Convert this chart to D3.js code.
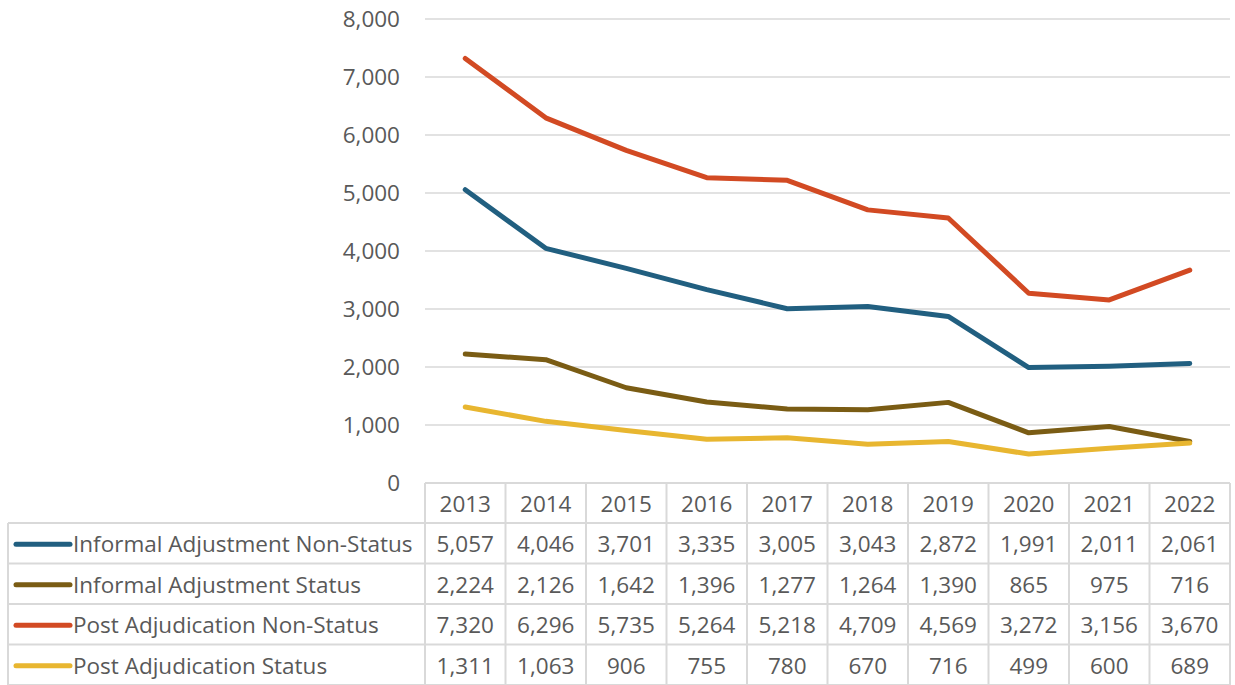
<!DOCTYPE html>
<html>
<head>
<meta charset="utf-8">
<script src="https://cdn.jsdelivr.net/npm/d3@7"></script>
<style>
  body { margin: 0; background: #fff; }
  svg text { font-family: "Open Sans", "Noto Sans", sans-serif; fill: #595959; }
</style>
</head>
<body>
<div id="chart"></div>
<script>
// Data
const years = ["2013", "2014", "2015", "2016", "2017", "2018", "2019", "2020", "2021", "2022"];
const seriesNames = [
  "Informal Adjustment Non-Status",
  "Informal Adjustment Status",
  "Post Adjudication Non-Status",
  "Post Adjudication Status"
];
const informalNonStatus = [5057, 4046, 3701, 3335, 3005, 3043, 2872, 1991, 2011, 2061];
const informalStatus = [2224, 2126, 1642, 1396, 1277, 1264, 1390, 865, 975, 716];
const postNonStatus = [7320, 6296, 5735, 5264, 5218, 4709, 4569, 3272, 3156, 3670];
const postStatus = [1311, 1063, 906, 755, 780, 670, 716, 499, 600, 689];
const yTicks = [0, 1000, 2000, 3000, 4000, 5000, 6000, 7000, 8000];

const seriesColors = ["#215F80", "#7A5C14", "#D24A23", "#E8B630"];
const seriesValues = [informalNonStatus, informalStatus, postNonStatus, postStatus];

const W = 1235, H = 685;
const plot = { left: 425, right: 1230, top: 19, bottom: 483 };
const tableLeft = 8;
const headerH = 40;
const rowH = 40.5;
const fontSize = "22.5px";

const svg = d3.select("#chart")
  .append("svg")
  .attr("width", W)
  .attr("height", H);

const x = d3.scaleBand()
  .domain(years)
  .range([plot.left, plot.right]);

const y = d3.scaleLinear()
  .domain([0, 8000])
  .range([plot.bottom, plot.top]);

const fmt = d3.format(",");

// gridlines
svg.append("g")
  .selectAll("line")
  .data(yTicks.filter(d => d > 0))
  .join("line")
  .attr("x1", plot.left)
  .attr("x2", plot.right)
  .attr("y1", d => y(d))
  .attr("y2", d => y(d))
  .attr("stroke", "#d9d9d9")
  .attr("stroke-width", 1.5);

// y tick labels
svg.append("g")
  .selectAll("text")
  .data(yTicks)
  .join("text")
  .attr("x", 400)
  .attr("y", d => y(d))
  .attr("dy", "0.35em")
  .attr("text-anchor", "end")
  .style("font-size", fontSize)
  .text(d => fmt(d));

// lines
const line = d3.line()
  .x((d, i) => x(years[i]) + x.bandwidth() / 2)
  .y(d => y(d));

svg.append("g")
  .selectAll("path")
  .data(seriesValues)
  .join("path")
  .attr("d", d => line(d))
  .attr("fill", "none")
  .attr("stroke", (d, i) => seriesColors[i])
  .attr("stroke-width", 5)
  .attr("stroke-linejoin", "round")
  .attr("stroke-linecap", "round");

// data table
const table = svg.append("g");
const tableTop = plot.bottom;
const rowTop = i => tableTop + headerH + i * rowH;
const tableBottom = rowTop(seriesNames.length);
const gridColor = "#d9d9d9";

// horizontal borders
const hLines = [{ y: tableTop, x1: plot.left }]
  .concat(d3.range(seriesNames.length + 1).map(i => ({ y: rowTop(i), x1: tableLeft })));
table.selectAll("line.h")
  .data(hLines)
  .join("line")
  .attr("class", "h")
  .attr("x1", d => d.x1)
  .attr("x2", plot.right)
  .attr("y1", d => d.y)
  .attr("y2", d => d.y)
  .attr("stroke", gridColor)
  .attr("stroke-width", 2);

// vertical borders
const vLines = years.map(yr => x(yr)).concat([plot.right]);
table.selectAll("line.v")
  .data(vLines)
  .join("line")
  .attr("class", "v")
  .attr("x1", d => d)
  .attr("x2", d => d)
  .attr("y1", tableTop)
  .attr("y2", tableBottom)
  .attr("stroke", gridColor)
  .attr("stroke-width", 2);

table.append("line")
  .attr("x1", tableLeft)
  .attr("x2", tableLeft)
  .attr("y1", rowTop(0))
  .attr("y2", tableBottom)
  .attr("stroke", gridColor)
  .attr("stroke-width", 2);

// header years
table.selectAll("text.year")
  .data(years)
  .join("text")
  .attr("class", "year")
  .attr("x", d => x(d) + x.bandwidth() / 2)
  .attr("y", tableTop + headerH / 2 + 1)
  .attr("dy", "0.35em")
  .attr("text-anchor", "middle")
  .style("font-size", fontSize)
  .text(d => d);

// rows
const rows = table.selectAll("g.row")
  .data(seriesNames)
  .join("g")
  .attr("class", "row")
  .attr("transform", (d, i) => `translate(0,${rowTop(i) + rowH / 2 + 1})`);

rows.append("line")
  .attr("x1", 16)
  .attr("x2", 70)
  .attr("y1", 0)
  .attr("y2", 0)
  .attr("stroke", (d, i) => seriesColors[i])
  .attr("stroke-width", 5)
  .attr("stroke-linecap", "round");

rows.append("text")
  .attr("x", 73)
  .attr("dy", "0.35em")
  .style("font-size", fontSize)
  .text(d => d);

rows.each(function(name, i) {
  d3.select(this).selectAll("text.val")
    .data(seriesValues[i])
    .join("text")
    .attr("class", "val")
    .attr("x", (d, j) => x(years[j]) + x.bandwidth() / 2)
    .attr("dy", "0.35em")
    .attr("text-anchor", "middle")
    .style("font-size", fontSize)
    .text(d => fmt(d));
});
</script>
</body>
</html>
